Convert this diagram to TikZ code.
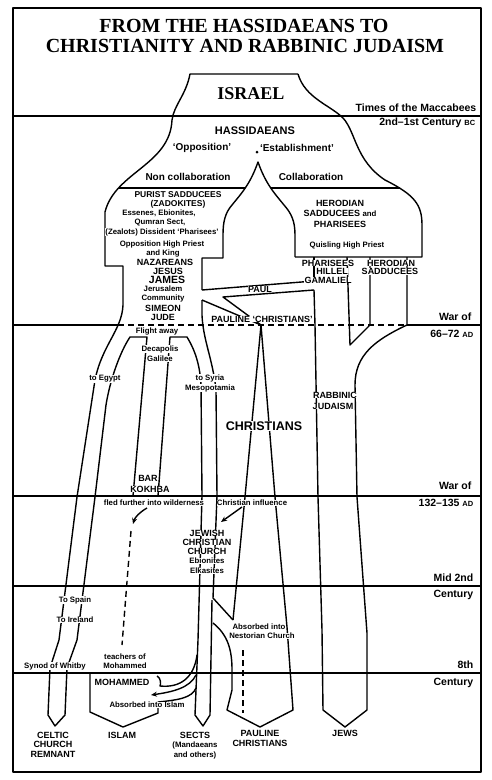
\documentclass[tikz,border=0pt]{standalone}
\usepackage{fontspec}
\setmainfont{Liberation Sans}
\newfontfamily\titlefont{Liberation Serif}
\usetikzlibrary{arrows.meta}
\begin{document}
\begin{tikzpicture}[x=1pt,y=-1pt,line width=1.4pt,line join=round,
  ttl/.style={font=\titlefont\bfseries\fontsize{20}{22}\selectfont,inner sep=0pt},
  big/.style={fill=white,inner sep=0.5pt,font=\titlefont\bfseries\fontsize{18}{19}\selectfont},
  med/.style={fill=white,inner sep=0.5pt,font=\bfseries\fontsize{10}{11}\selectfont},
  capl/.style={fill=white,inner sep=0.3pt,font=\bfseries\fontsize{9}{10}\selectfont},
  sml/.style={fill=white,inner sep=0.3pt,font=\bfseries\fontsize{7.8}{8.5}\selectfont},
  rl/.style={anchor=east,inner sep=0pt,font=\bfseries\fontsize{10.5}{11}\selectfont},
  tip/.style={-{Stealth[length=6pt,width=5pt]}},
  dsh/.style={dash pattern=on 6pt off 4pt}]
\useasboundingbox (0,0) rectangle (491,780);
% frame and period lines
\draw[line width=1.7pt] (13,8) rectangle (481,772);
\draw (13,116) -- (481,116);
\draw (13,325) -- (118,325);
\draw[dsh] (118,325) -- (407,325);
\draw (407,325) -- (481,325);
\draw (13,496) -- (481,496);
\draw (13,586) -- (481,586);
\draw (13,673) -- (481,673);
% bell, left side, Egypt branch, Celtic remnant
\draw (298,74) -- (190,74) .. controls (186,95) and (174,105) .. (172,120)
  .. controls (170,165) and (115,172) .. (105,212) -- (105,266) -- (123,266) -- (123,305)
  .. controls (122,330) and (102,345) .. (95,380) -- (77,497) -- (59,640) -- (50,668)
  -- (48,715) -- (55,726) -- (65,715) -- (67,668) -- (77,640) -- (95,497) -- (106,405)
  .. controls (110,380) and (120,352) .. (130,337) -- (147,337) -- (133,496);
% right bell and Herodian box
\draw (298,74) .. controls (305,98) and (330,105) .. (343,118)
  .. controls (356,132) and (355,160) .. (385,180)
  .. controls (415,195) and (422,205) .. (422,225) -- (422,257) -- (295,257);
\draw (119,188) -- (245,188);
\draw (271,188) -- (400,188);
% central arch
\draw (202,290) -- (202,258) -- (223,258) -- (223,235) .. controls (223,222) and (225,213) .. (232,205)
  .. controls (240,195) and (250,185) .. (258,162) .. controls (266,185) and (276,195) .. (284,205)
  .. controls (292,214) and (295,222) .. (295,235) -- (295,257);
\fill (257,152) circle (1.5pt);
% Paul band and wedge
\draw (202,290) -- (314,281);
\draw (314,290) -- (223,297) -- (261,325);
\draw (202,300) -- (261,325);
% Pharisees / Sadducees / Rabbinic Judaism / Jews
\draw (314,257) -- (314,281);
\draw (314,290) -- (315,325) -- (318,497) -- (322,630) -- (323,710) -- (345,727) -- (367,710)
  -- (367,633) -- (357,497) -- (355,385) .. controls (355,355) and (375,340) .. (407,325) -- (407,257);
\draw (347,257) -- (350,345) -- (370,325) -- (370,257);
% Syria branch, Jewish Christian Church, Sects
\draw (202,300) -- (202,315) .. controls (203,340) and (213,360) .. (216,390) -- (217,496)
  -- (213,598) -- (233,620);
\draw (212,600) -- (210,715) -- (203,726) -- (195,715) -- (198,640) -- (202,496) -- (201,385)
  .. controls (200,365) and (195,350) .. (187,337) -- (170,337) -- (158,496);
% Pauline Christians
\draw (233,620) -- (245,497) -- (261,325) -- (275,497) -- (287,627) -- (293,710) -- (260,727)
  -- (227,710) -- (232,690) -- (232,670) .. controls (232,650) and (228,635) .. (213,623);
\draw[dsh] (243,650) -- (243,713);
% Islam
\draw (196,688) .. controls (192,698) and (178,700) .. (158,702) -- (158,713) -- (123,727)
  -- (90,712) -- (90,674);
\draw (157,676) .. controls (161,678) and (161,684) .. (160,686)
  .. controls (180,688) and (194,678) .. (197,655);
\draw[tip] (196,675) .. controls (190,688) and (172,692) .. (151,695);
% other arrows
\draw[tip] (147,508) .. controls (140,512) and (135,517) .. (133,524);
\draw[dsh] (131,531) -- (122,645);
\draw[tip] (242,507) -- (221,522);
% title
\node[ttl] (t1) at (244,26) {FROM THE HASSIDAEANS TO};
\node[ttl] (t2) at (245,46) {CHRISTIANITY AND RABBINIC JUDAISM};
% right labels
\node[rl] (r1) at (477,108) {Times of the Maccabees};
\node[rl] (r2) at (476,123) {2nd--1st Century {\fontsize{7.5}{8}\selectfont BC}};
\node[rl] (r3) at (472,317) {War of};
\node[rl] (r4) at (474,334) {66--72 {\fontsize{7.5}{8}\selectfont AD}};
\node[rl] (r5) at (472,486) {War of};
\node[rl] (r6) at (474,503) {132--135 {\fontsize{7.5}{8}\selectfont AD}};
\node[rl] (r7) at (474,578) {Mid 2nd};
\node[rl] (r8) at (474,595) {Century};
\node[rl] (r9) at (474,665) {8th};
\node[rl] (r10) at (474,683) {Century};
% top labels
\node[big] (isr) at (251,94) {ISRAEL};
\node[med,font=\bfseries\fontsize{11}{12}\selectfont] (has) at (255,131) {HASSIDAEANS};
\node[med] (opp) at (202,148) {‘Opposition’};
\node[med] (est) at (297,148) {‘Establishment’};
\node[med] (nco) at (188,177) {Non collaboration};
\node[med] (col) at (311,177) {Collaboration};
% purist / nazareans
\node[capl,font=\bfseries\fontsize{8.5}{9}\selectfont] (p1) at (178,194.5) {PURIST SADDUCEES};
\node[capl,font=\bfseries\fontsize{8.5}{9}\selectfont] (p2) at (178,204) {(ZADOKITES)};
\node[sml] (p3) at (159,213.5) {Essenes, Ebionites,};
\node[sml] (p4) at (160,222.5) {Qumran Sect,};
\node[sml] (p5) at (162,232) {(Zealots) Dissident ‘Pharisees’};
\node[sml] (p6) at (162,244) {Opposition High Priest};
\node[sml] (p7) at (163,253) {and King};
\node[capl] (p8) at (165,262) {NAZAREANS};
\node[capl] (p9) at (168,271) {JESUS};
\node[capl,font=\bfseries\fontsize{10.5}{11}\selectfont] (p10) at (167,280) {JAMES};
\node[sml] (p11) at (163,289) {Jerusalem};
\node[sml] (p12) at (163,298) {Community};
\node[capl] (p13) at (163,308) {SIMEON};
\node[capl] (p14) at (163,317) {JUDE};
\node[sml] (p15) at (157,331) {Flight away};
\node[sml] (p16) at (160,349) {Decapolis};
\node[sml] (p17) at (160,359) {Galilee};
% herodian
\node[capl] (h1) at (340,203) {HERODIAN};
\node[capl] (h2) at (340,213) {SADDUCEES {\fontsize{7.8}{8}\selectfont and}};
\node[capl] (h3) at (340,224) {PHARISEES};
\node[sml] (h4) at (347,245) {Quisling High Priest};
\node[capl] (h5) at (328,263) {PHARISEES};
\node[capl] (h6) at (391,263) {HERODIAN};
\node[capl] (h7) at (332,271.5) {HILLEL};
\node[capl] (h8) at (390,271.5) {SADDUCEES};
\node[capl] (h9) at (328,280) {GAMALIEL};
\node[capl] (paul) at (260,289) {PAUL};
\node[capl] (pc) at (262,319) {PAULINE ‘CHRISTIANS’};
% middle
\node[sml] (eg) at (105,379) {to Egypt};
\node[sml] (sy) at (210,378) {to Syria};
\node[sml] (me) at (210,388) {Mesopotamia};
\node[capl,font=\bfseries\fontsize{12.5}{13}\selectfont] (chr) at (264,426) {CHRISTIANS};
\node[capl] (rab1) at (335,395) {RABBINIC};
\node[capl] (rab2) at (333,406) {JUDAISM};
\node[capl] (bk1) at (148,478) {BAR};
\node[capl] (bk2) at (150,489) {KOKHBA};
\node[sml] (fled) at (154,503) {fled further into wilderness};
\node[sml] (cinf) at (252,503) {Christian influence};
\node[capl] (j1) at (207,533) {JEWISH};
\node[capl] (j2) at (207,542) {CHRISTIAN};
\node[capl] (j3) at (207,551) {CHURCH};
\node[sml] (j4) at (207,561) {Ebionites};
\node[sml] (j5) at (207,571) {Elkasites};
\node[sml] (tsp) at (75,600) {To Spain};
\node[sml] (tir) at (75,620) {To Ireland};
\node[sml] (nes1) at (259,627) {Absorbed into};
\node[sml] (nes2) at (262,636) {Nestorian Church};
\node[sml] (syn) at (55,666) {Synod of Whitby};
\node[sml] (tm1) at (125,657) {teachers of};
\node[sml] (tm2) at (125,666) {Mohammed};
\node[capl] (moh) at (122,682) {MOHAMMED};
\node[sml] (abi) at (147,705) {Absorbed into Islam};
% bottom
\node[capl] (c1) at (53,735) {CELTIC};
\node[capl] (c2) at (53,744.5) {CHURCH};
\node[capl] (c3) at (53,754) {REMNANT};
\node[capl] (isl) at (122,735) {ISLAM};
\node[capl] (s1) at (195,735) {SECTS};
\node[sml] (s2) at (195,745) {(Mandaeans};
\node[sml] (s3) at (195,755) {and others)};
\node[capl] (pa1) at (260,733) {PAULINE};
\node[capl] (pa2) at (260,743) {CHRISTIANS};
\node[capl] (jw) at (345,733) {JEWS};
\end{tikzpicture}
\end{document}
